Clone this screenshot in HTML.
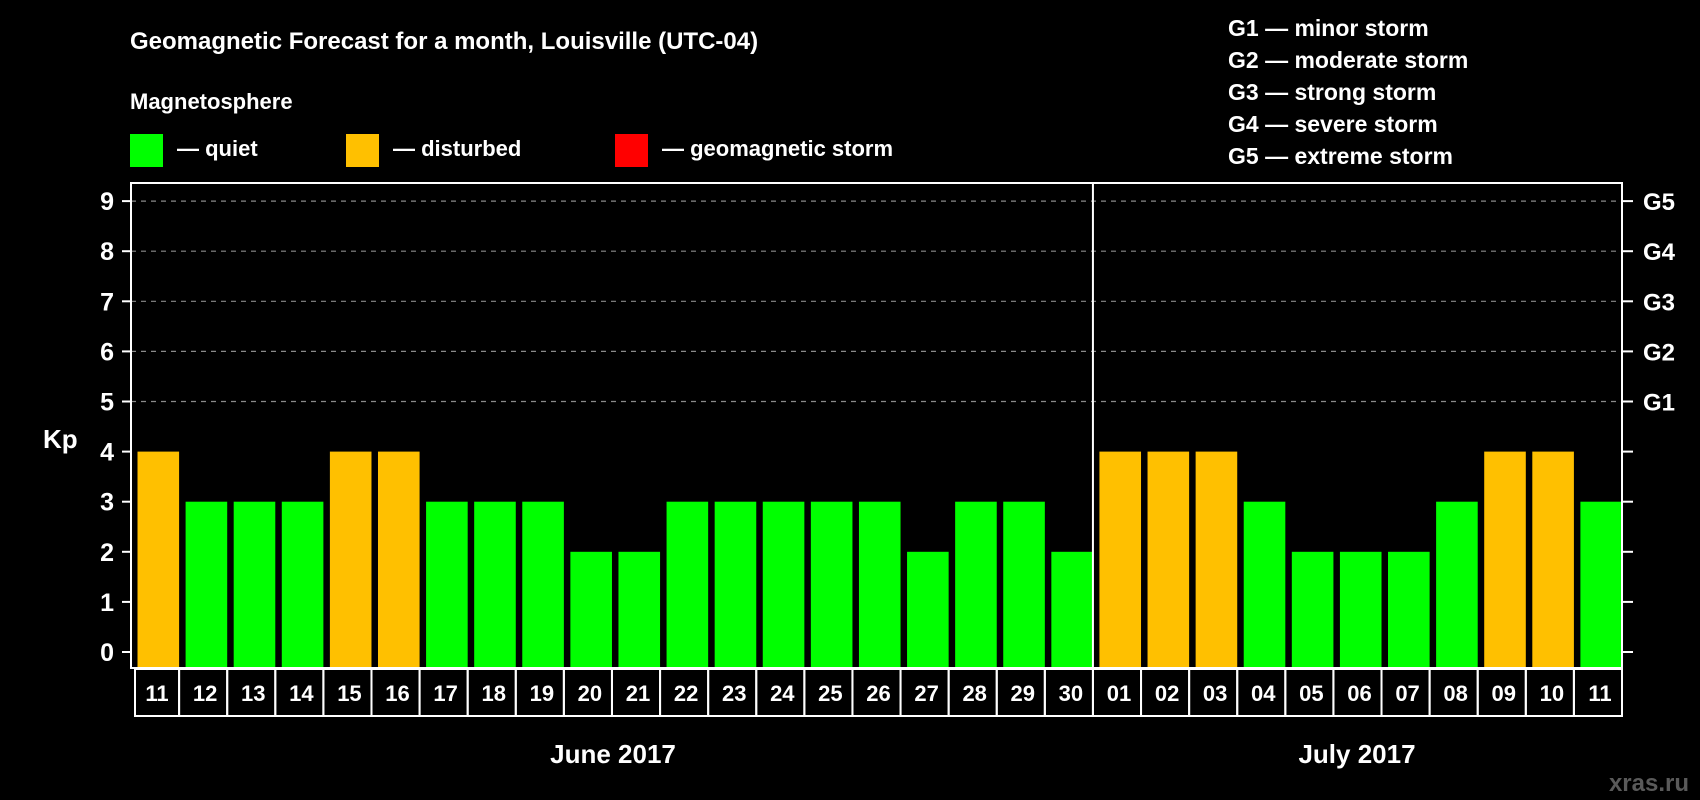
<!DOCTYPE html>
<html><head><meta charset="utf-8"><style>
html,body{margin:0;padding:0;background:#000;}
svg{display:block;font-family:"Liberation Sans",Arial,sans-serif;font-weight:bold;}
</style></head><body>
<svg id="chart" width="1700" height="800" viewBox="0 0 1700 800" xmlns="http://www.w3.org/2000/svg">
<rect width="1700" height="800" fill="#000"/>
<text x="130" y="49" fill="#fff" font-size="24">Geomagnetic Forecast for a month, Louisville (UTC-04)</text>
<text x="130" y="109" fill="#fff" font-size="22">Magnetosphere</text>
<g><rect x="130" y="134" width="33" height="33" fill="#00ff00"/><text x="177" y="156" fill="#fff" font-size="22">— quiet</text></g>
<g><rect x="346" y="134" width="33" height="33" fill="#ffc000"/><text x="393" y="156" fill="#fff" font-size="22">— disturbed</text></g>
<g><rect x="615" y="134" width="33" height="33" fill="#ff0000"/><text x="662" y="156" fill="#fff" font-size="22">— geomagnetic storm</text></g>
<g fill="#fff" font-size="23">
<text x="1228" y="36">G1 — minor storm</text>
<text x="1228" y="68">G2 — moderate storm</text>
<text x="1228" y="100">G3 — strong storm</text>
<text x="1228" y="132">G4 — severe storm</text>
<text x="1228" y="164">G5 — extreme storm</text>
</g>
<text x="43" y="448" fill="#fff" font-size="26">Kp</text>
<g id="grid"></g>
<g id="bars"></g>
<g id="axes"></g>
<g id="xlabels"></g>
<text x="613" y="763" fill="#fff" font-size="26" text-anchor="middle">June 2017</text>
<text x="1357" y="763" fill="#fff" font-size="26" text-anchor="middle">July 2017</text>
<text x="1689" y="791" fill="#5a5a5a" font-size="24" text-anchor="end">xras.ru</text>
</svg>
<script>
const days = ["11","12","13","14","15","16","17","18","19","20","21","22","23","24","25","26","27","28","29","30","01","02","03","04","05","06","07","08","09","10","11"];
const kpValues = [4,3,3,3,4,4,3,3,3,2,2,3,3,3,3,3,2,3,3,2,4,4,4,3,2,2,2,3,4,4,3];
const yTicks = [0,1,2,3,4,5,6,7,8,9];
const gLabels = ["G1","G2","G3","G4","G5"];
const gLevels = [5,6,7,8,9];
const NS="http://www.w3.org/2000/svg";
const L=131,R=1622,T=183,B=668;
const step=(R-L)/days.length;
const y=v=>652-v*50.1;
const xAt=i=>L+i*step;
function mk(tag,attrs,parent){const e=document.createElementNS(NS,tag);for(const k in attrs)e.setAttribute(k,attrs[k]);parent.appendChild(e);return e;}
const grid=document.getElementById('grid'),bars=document.getElementById('bars'),axes=document.getElementById('axes'),xl=document.getElementById('xlabels');
gLevels.forEach((v,i)=>{
 const g=mk('line',{x1:L,x2:R,y1:y(v),y2:y(v),stroke:'#8a8a8a','stroke-width':1.2,'stroke-dasharray':'5,5'},grid);
 
 
 const t=mk('text',{x:1643,y:y(v)+9,fill:'#fff','font-size':24},axes);
 t.textContent=gLabels[i];
 
 
});
kpValues.forEach((v,i)=>{
 const r=mk('rect',{x:xAt(i)+6.5,y:y(v),width:step-6.5,height:B-y(v),fill:v>=5?'#ff0000':(v>=4?'#ffc000':'#00ff00')},bars);
 
 
});
const frame=mk('rect',{x:L,y:T,width:R-L,height:B-T,fill:'none',stroke:'#fff','stroke-width':2},axes);


const div=mk('line',{x1:xAt(20),x2:xAt(20),y1:T,y2:B,stroke:'#fff','stroke-width':2},axes);


yTicks.forEach(v=>{
 mk('line',{x1:122,x2:L,y1:y(v),y2:y(v),stroke:'#fff','stroke-width':2},axes);
 mk('line',{x1:R,x2:1633,y1:y(v),y2:y(v),stroke:'#fff','stroke-width':2},axes);
 const t=mk('text',{x:114,y:y(v)+9,fill:'#fff','font-size':25,'text-anchor':'end'},axes);
 t.textContent=v;
 
 
});
days.forEach((d,i)=>{
 const x0=i===0?135:xAt(i);
 const c=mk('rect',{x:x0,y:669,width:xAt(i+1)-x0,height:47,fill:'none',stroke:'#fff','stroke-width':2},xl);
 
 
 const t=mk('text',{x:xAt(i)+step/2+2,y:701,fill:'#fff','font-size':22,'text-anchor':'middle'},xl);
 t.textContent=d;
 
 
});
</script>
</body></html>
